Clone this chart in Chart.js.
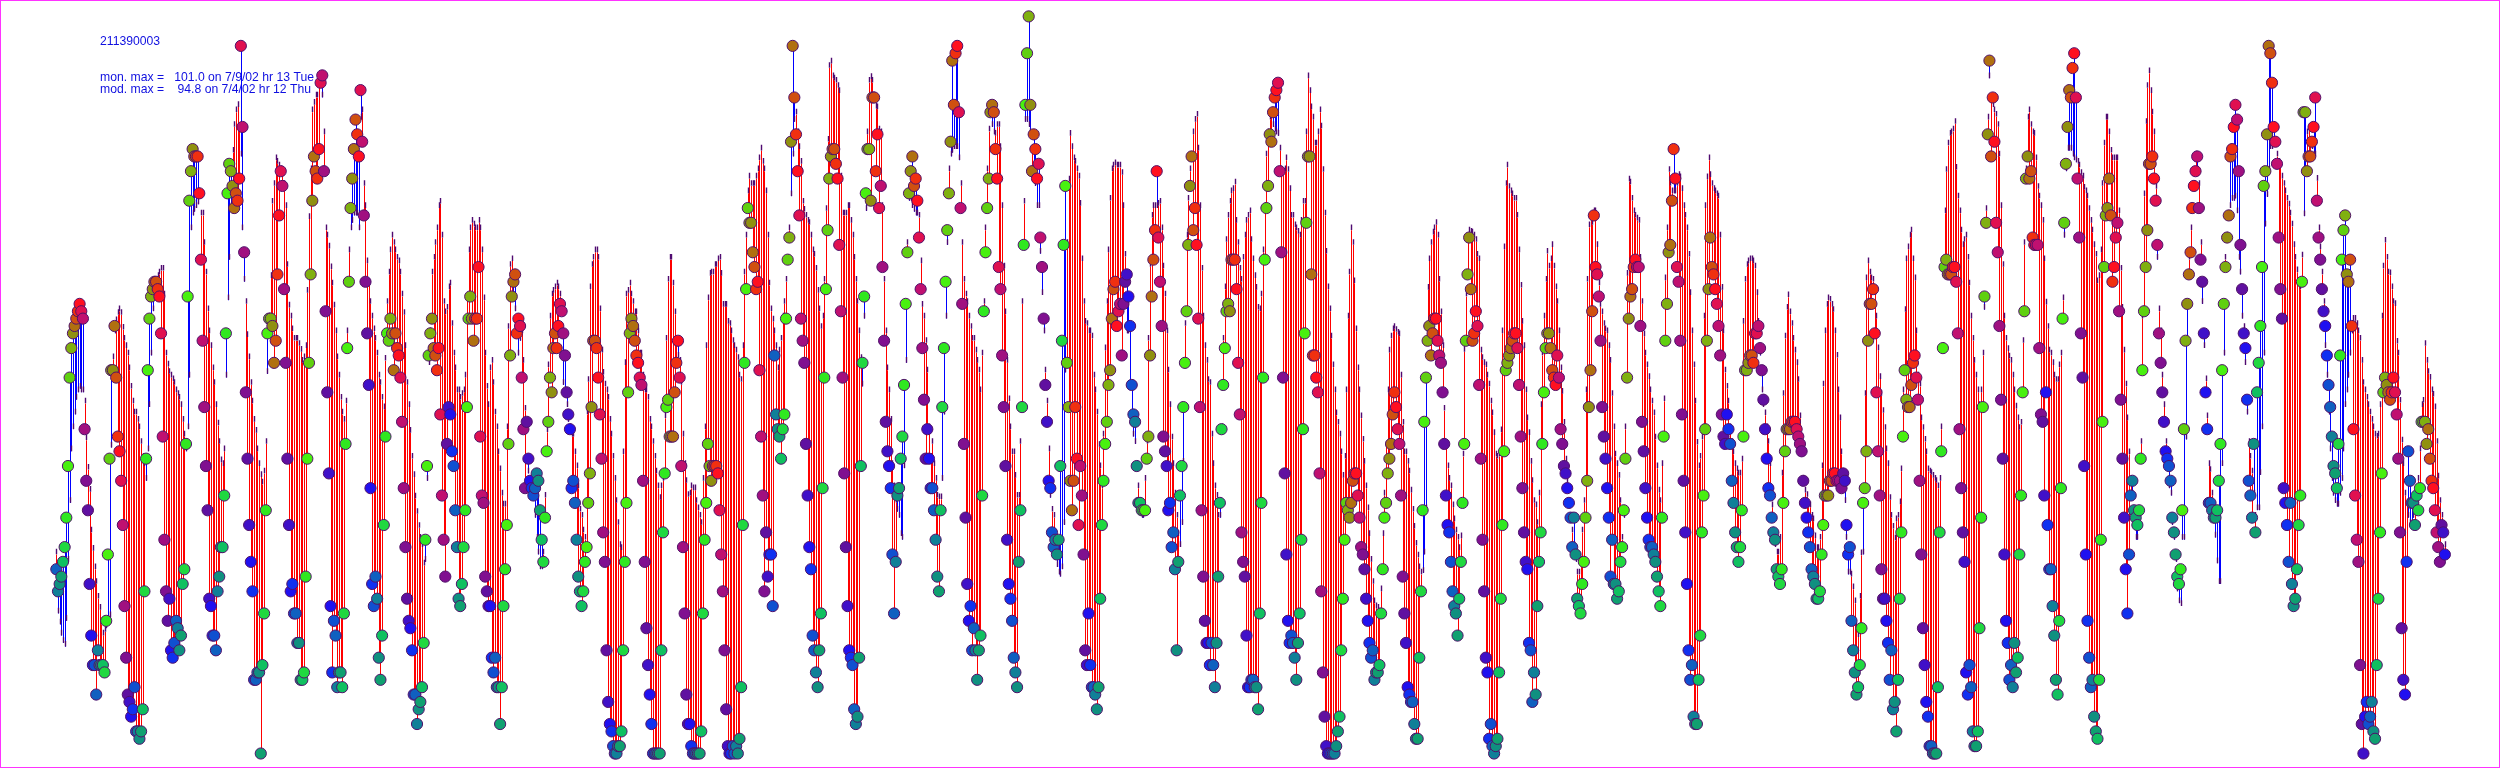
<!DOCTYPE html>
<html><head><meta charset="utf-8">
<style>html,body{margin:0;padding:0;background:#fff}canvas{display:block}</style>
<script src="https://cdn.jsdelivr.net/npm/chart.js@4"></script>
</head><body><canvas id="c" width="2500" height="768"></canvas>
<script>
const siteId = "211390003";
const monMaxLine = "mon. max =   101.0 on 7/9/02 hr 13 Tue";
const modMaxLine = "mod. max =    94.8 on 7/4/02 hr 12 Thu";
const hourColors = ["#1060c0","#108098","#109080","#10a070","#10c060","#20d840","#30e820","#48f010","#60d010","#80b010","#909010","#b07010","#d05010","#f03010","#ff1020","#e01050","#c01070","#a01080","#801090","#6010a0","#4010c8","#2010f0","#1030f0","#1050d0"];
// observed hourly values, one line per day
const observed = [
26,23,24,25,27,29,33,40,52,56,58,59,60,61,62,61,60,45,38,34,24,17,13,13,
9,15,13,13,13,12,19,28,41,53,53,59,52,44,42,38,32,21,14,9,8,6,7,10,
4,4,3,4,7,23,41,53,60,63,64,65,65,64,63,58,44,30,23,19,22,15,14,16,
19,18,15,17,24,26,43,63,76,80,83,82,82,82,77,68,57,48,40,34,22,21,17,17,
15,23,25,29,29,36,58,77,81,80,78,75,77,76,79,97,86,69,50,41,32,27,23,11,
11,12,12,1,13,20,34,58,60,60,59,54,57,66,74,80,78,64,54,41,32,23,24,20,
20,16,16,11,11,12,25,41,54,66,76,82,80,79,83,92,93,80,61,50,39,21,12,19,
17,10,12,12,10,20,43,56,65,75,79,83,87,85,82,91,84,74,65,58,51,37,24,21,
25,22,14,11,17,32,44,58,57,60,58,53,58,56,55,52,46,37,29,22,19,18,15,9,
9,5,7,8,10,16,30,40,55,58,60,56,55,53,56,47,36,30,25,43,48,47,42,40,
34,29,22,21,24,29,34,48,60,63,60,57,60,60,67,44,36,35,25,23,21,21,14,12,
14,10,10,5,10,21,26,32,43,55,63,65,66,58,60,59,52,45,37,46,41,38,37,36,
37,39,38,34,30,27,33,42,46,52,50,56,58,56,59,62,61,58,55,50,47,45,37,38,
35,30,25,23,21,23,27,29,35,39,48,57,57,56,52,47,41,31,27,15,8,5,4,2,
1,1,2,2,4,15,27,35,50,58,60,59,57,55,54,52,51,38,27,18,13,9,5,1,
1,1,1,1,15,31,39,48,49,44,44,44,50,54,57,52,40,29,20,9,5,5,2,1,
1,1,1,1,4,20,30,35,43,40,38,40,40,40,39,34,28,23,15,7,2,1,1,2,
1,2,1,3,10,32,54,64,75,73,73,69,67,64,65,53,44,36,23,31,25,28,28,21,
55,47,45,44,41,45,47,60,68,71,84,97,90,85,80,74,60,57,54,43,36,29,26,17,
15,12,10,15,20,37,52,64,72,79,82,83,83,81,79,70,61,52,39,29,21,15,14,13,
7,5,6,14,40,54,63,77,83,83,76,90,90,80,85,75,78,67,57,46,42,40,37,28,
20,27,36,37,41,44,51,62,69,77,80,82,78,79,76,71,64,56,49,41,45,41,37,37,
34,30,25,23,34,48,56,65,72,77,84,95,89,96,97,88,75,62,43,33,24,19,21,15,
18,15,11,15,17,36,61,69,75,79,88,89,88,83,79,67,64,55,48,40,30,24,22,19,
14,12,10,27,34,48,70,89,96,101,89,80,85,83,79,81,71,67,60,51,46,38,37,31,
29,30,28,30,40,57,70,78,54,48,38,34,38,48,41,32,40,36,28,15,13,20,13,10,
10,9,7,10,22,32,38,43,46,51,53,60,64,65,59,61,62,55,62,65,66,63,59,51,
47,46,40,35,35,34,34,34,41,44,55,63,68,72,80,71,65,59,44,42,40,34,35,29,
31,26,15,27,36,40,48,54,61,70,78,82,72,75,70,60,48,34,25,19,16,16,13,16,
13,10,16,25,35,45,51,56,61,62,61,68,68,68,64,54,47,31,27,25,17,10,10,11,
11,10,10,7,20,35,52,68,75,78,85,84,88,90,91,92,80,69,52,39,28,19,16,17,
16,14,11,16,20,30,45,58,73,82,82,66,55,55,52,50,39,23,12,6,2,1,1,1,
1,1,2,4,6,15,22,30,35,34,33,35,38,39,39,36,33,29,28,26,22,19,16,14,
15,11,12,12,13,20,26,33,35,39,41,43,47,50,48,45,43,36,25,20,16,10,9,8,
8,5,3,3,14,23,34,46,52,57,59,55,58,60,60,57,55,54,50,43,36,32,31,27,
23,21,20,17,22,27,35,43,57,66,71,64,57,58,61,59,51,41,30,23,14,12,3,5,
2,1,2,3,12,22,32,42,53,54,55,56,57,58,58,56,51,44,37,31,27,26,16,15,
8,12,9,21,27,31,43,50,56,58,58,56,53,52,51,55,52,45,43,40,39,37,35,33,
29,33,28,22,21,20,24,27,33,38,48,53,61,74,67,66,63,57,48,44,41,37,33,25,
30,24,24,22,23,27,29,34,41,52,60,63,64,67,68,67,67,59,46,42,37,33,30,29,
29,28,27,25,23,21,33,44,57,62,69,70,76,83,79,67,65,57,47,38,31,24,15,11,
13,6,5,5,11,17,31,36,45,57,64,71,67,66,64,62,59,55,47,44,43,47,45,43,
38,35,31,29,27,29,34,44,53,53,54,55,55,54,58,58,59,56,53,49,45,41,37,36,
33,31,30,26,25,24,26,35,42,45,45,45,46,46,46,45,44,43,42,38,35,33,31,29,
26,25,24,22,22,23,28,32,36,36,36,38,38,39,39,38,38,38,37,39,38,32,28,29,
19,15,12,9,10,13,18,35,37,42,57,62,62,64,58,50,42,36,26,22,22,19,16,11,
15,7,8,4,11,22,31,44,53,49,48,48,51,54,55,52,49,38,28,18,13,8,6,2,
2,1,1,1,10,31,42,56,67,68,66,66,66,67,67,65,58,45,37,31,27,12,9,13,
10,4,2,2,4,18,33,48,63,73,85,95,82,90,84,73,69,59,49,41,28,19,16,11,
13,10,16,12,14,28,36,50,61,79,82,79,80,71,70,70,70,56,47,46,36,50,32,26,
26,21,17,11,9,19,37,60,73,81,86,91,90,94,96,90,79,71,58,52,40,28,19,14,
10,11,6,4,3,11,30,46,67,74,75,79,74,65,67,71,73,61,49,41,33,26,20,28,
36,38,34,33,32,34,41,53,61,67,72,81,81,82,79,76,70,58,54,50,46,42,41,40,
38,33,31,28,25,24,26,34,45,57,62,66,69,75,78,80,82,75,68,65,58,50,45,35,
35,34,33,33,34,38,43,53,62,67,71,74,82,83,86,89,87,80,70,64,58,56,49,38,
36,33,43,31,50,54,59,67,78,80,85,97,96,92,86,84,81,71,64,60,37,35,32,27,
35,24,21,22,26,32,36,65,88,88,80,82,82,84,86,90,76,71,68,64,61,59,55,51,
48,44,40,39,37,43,55,68,72,74,66,65,68,59,45,36,30,27,13,5,1,6,8,5,
6,8,4,3,13,22,31,39,50,52,51,50,49,50,52,50,47,41,31,18,11,9,27,42,
38,35,35,32,36,34,37,46,46,46,43,45,41,38,37,34,31,29,27,32,31,28];
// modelled hourly values, one line per day
const modeled = [
28,20,18.5,17,16,15.5,19,27,35,42,45,47,49,50,50.5,50,50,48.5,43.5,39.5,36.5,31,28.5,26,
24,22,20.5,18.5,17,17.5,18,19,19.5,42.5,54.5,58,59.5,60.5,61,60.5,58.5,57,56,55,53,50.5,48.5,47,
47,46,45,43,41,40,38,42,48,55,61,63,64.5,65.5,66,66.5,66.5,63,55,53.5,52.5,52,51.5,51,
50,49.5,49,48,46,44,42,45,52,72,74,74.5,75,75.5,77,74,74,70,66,61,58,56,53,51,
48,45.5,43,40.5,40,42,52,62.5,68,75,82.5,86,88,88.7,85.5,82,72,65,62,57.5,54.5,51,48.5,46,
44.5,42,40,38.5,37.5,39,43,52.5,60,65.5,75.6,78,81.5,81,80.5,80,79.5,78,75,67,61.5,60,58.3,57,
57,57,56.3,55.5,54,54.5,56,63.5,73.5,80,88,89,90,90,92,92.7,90,85,72,71,69.5,66.7,64.5,61.5,
58,54.5,52,49,47,46,48.5,58,69,72,73,74,74,74,72,87,88,78,75,67.5,64.5,62,60,58.3,
57,55,52,51,49,47.7,54.3,62,66,69,71,70,69,68,67.5,66,63,60.5,56,51,48,44.5,41,38.5,
35.6,33.5,31.6,30,29,26.5,27,38,53.7,58,66,68,70,72,75,75.6,71,62,60.6,61.2,64,64.5,59,55,
53,50,50,49,49.5,50,52,62.5,69,72,73,72.5,72,72,73,72,69,62.5,55,50.5,48,53,54,51,
47,45,41.6,39.3,36,34.5,34.5,45,58.6,67,67.8,62.5,61,58,55,57,58,54,47.5,45.5,39,38,37,36,
33,30,28,26,26,28,35.7,44.6,53.4,60,63,63.5,64,64.5,64,63,61.5,51,50,48,46,45,44,44,
41.6,39.7,37,33.8,33,31,30,47,51.4,64,67,68,69,69,68,61,55.4,52.4,50.8,50,49,46,44,41,
38,35,32,29,28.6,41.6,53.7,63,63.5,64.5,63,62,60.6,60.6,58,55,55,52,50,50,49,46,45,43,
41,39,37,35.4,37,38,46.5,57,65,68,68,64.5,60.6,56.6,54.7,54,51,44,40,37.7,35.8,36,37,36.7,
36.7,35,34,33,32,38,45,56,62.5,65.8,66,66,67,67,67.8,68,65.8,61.6,61.6,61.6,59.3,59,58,56.7,
56,55.4,54.4,52,51.4,56,66,71,77,79,78,78,78,79,80,81.5,82.8,81,80,77,71,64.5,61,59.6,
58,56,53,55.4,57,60,62,65,68,72,76.6,82,86.7,87.7,85,83,81,75.6,74.5,73.7,73,72.7,71,69,
68.4,66.5,63.5,61,58.6,60,65,74.6,84,94,94.6,92.6,92.3,92,91.3,90.6,79,74,74,74,75,75,73,71,
68,65,62,58,54.4,50.8,60,74.6,85,92,92.5,92,90,88.5,88.4,85.4,85,75,65,58,53,50,46,40,
37,35,33.8,33,30.5,30,39.7,54,70,76,76,75,74.5,74,74,73.7,67.5,61.6,60,56.7,52.7,45,41,43,
40,38,35.7,35.5,35.5,38,47,60,70,80,82,82.5,83,83,83,81.5,78,70,65,63,62,60,58.6,57,
57,55.4,54,52.7,50,55,62,72,80,85.4,88,86,85,84.8,86,86,83,75,66.8,60.6,54,48.8,45,41.6,
41.6,38.4,35.7,35.7,43,62,75.6,86.7,86.7,86,85,82.8,80,78,75,75,68.8,63.2,58,52.7,48.5,42,35.7,33.8,
33,30,26.3,25.3,25,26,32,52.7,70,78.6,84.8,83,81.5,81,80,79,75.3,67.8,62,59.3,59,58,58,57.3,
52,50,47,42.6,39.7,37,44,55.7,62,69,76,80,80.5,80.8,80.5,80.5,80.5,79.5,75,68.4,58,58,50.8,46.9,
44,43,40,37,35,33,33,38,43,57,67,73.7,75,75,75,75.3,75.6,72,66.8,63,58,52.7,48,43.6,
40,36,33,30.5,29,32,40.3,59,71,76,80,81.5,85,86.7,87.4,82.8,75,66.5,60,56,54,51.4,51,44,
40,37,35.7,33,33,45,57,64,70.4,73.7,75.6,77,77.3,78.2,73,70,66.5,65,68,71,73,73.7,74.3,70.4,
67.8,65.5,63.9,61.2,61,63,69,75,82,85,87,87.4,86,85.4,85,84.8,82.8,80,79.5,80,81.5,79.9,77.3,73.7,
73.7,72.4,72,71.5,71,73,75.6,75.6,85,92.6,90.6,88.4,87,83.5,83.5,85,88,85.8,79.9,74,68.8,64,61,57.3,
53.4,50,46.9,45.6,44,41.6,38.4,41,50,60,66,72,70,64.8,58.3,53,50,46.5,43.3,40.3,37,34,30.5,27,
24,21.4,20.7,20.5,20,23,30.5,36,42.6,50,55.4,57.3,58.3,58.6,58.2,57.8,57.6,52,45.6,41.6,41.6,40.3,39,36.4,
33.8,31.5,29.2,27.6,26,25.3,25.5,28,34,63.9,67.8,70,71.4,72,72.7,71,65,60.6,56,47.5,42.3,39.7,38,37,
34.4,32.5,31,30,28.6,30.2,41.3,55.5,63,70.4,71.7,71.5,71.4,71,70.4,68.4,67.8,55.4,54.4,53.7,53.4,52,50.8,48.5,
46.9,44.2,41.3,41,41.3,44.6,58,69.4,78,80.5,77.6,77,76.6,76,76,73.7,69,64.2,59.3,56,50,46.2,44.2,40.3,
37.7,35,34.4,32,36,48,55,60,65,68.8,66.8,67.8,69.7,66.8,64,62,58,53,49.8,45.6,40.6,37.7,35,33,
31,29,27,25.3,25.3,27,31,35,50,65,72.4,73.3,72.7,74.3,74.3,69.7,64.5,61.6,60.6,59,58.3,58,56,54,
49.5,45,41.3,40,38.4,35,30,33,45,65.8,78.6,78.2,76,74.3,73.7,73.3,73,68,62,57.6,55,53.4,51.8,50,
48.5,46.9,43.6,39.7,36.4,35,40,48.8,65.2,72,79.9,78,77,77,77,78,79.2,78.9,77.3,75,73.7,72,68.4,63.2,
58,53.4,48.5,42.9,39.7,41,43.6,60,75,78.9,81.5,79.2,78,77.3,77,76.6,76.3,71,63.9,58,52.7,50.5,48.5,45,
43,41.6,40,39.3,38.7,38.7,40.6,59.3,65,67,67.5,67.8,67.8,67.5,66.8,63.2,59.3,55,50,48,46.9,45,43,40,
34.4,31,29,28,28,30,38.7,49.5,57.3,61.2,62.9,60.6,59,57,55.4,53.7,51.4,46.5,42,38,36.4,35.8,34.4,34.4,
33,32.5,30.2,28.6,28.6,30,39.7,50.8,58,61.6,62.5,62.3,61.6,60.9,58,54.7,50,46.2,41.6,38,35,30,25.3,25.3,
25,23.3,21.4,18,16.8,22,27.9,28,49.5,65.2,67.5,66,65.2,65,63.2,60,55.7,51.8,49.5,47.2,44.9,42,40,35.4,
33,31.5,29.9,32.5,33,34.8,39.3,50,60.9,67.8,69.4,71,71.7,67.8,65.2,58,52,50.8,46.2,44.9,43.3,41.6,39.3,39,
38.8,38.4,38,37.7,37,38,45,56,74.3,79.9,83.5,84.8,85,85.4,86.4,80.2,76.3,74.3,71.7,69.7,70.4,71,68,64.5,
60,57,54,52,50,48,50,55,61.2,74.6,87,92.6,89.3,88.7,88,87.4,86,82,75,67,60,57,55.6,54.6,
54,52,50,47.8,46.2,44.9,45.6,56.7,70,80,87,88,86,85,84.8,81.5,77.6,76.3,75,73,67.8,61.9,58.6,55.4,
55,53.7,52,51.4,51.4,53.4,55,62.5,71,80,82.8,82.8,82.8,82,81.5,81.2,81,80.5,79.5,79,77.5,77,76.3,74.6,
73,71.7,69.7,68.4,64.8,65.5,69,78,83.5,87,87,85,82.5,81.5,81.5,81.5,81.5,74.3,66.5,61.2,55.4,50.8,46.2,41.6,
38,36,33,30,30,32,43,60,76.6,86.4,91.3,93.3,90.6,87.7,85,77.6,68,61,58,52,48,43,40,37,
36,32,30,27,23,21.4,21,30,30,43.6,57,68,72,75,78,82,80,78,70,62,56,51.5,46.5,40,
39.2,36,33,30.3,26.8,24,24,40,55,68,71,73.5,75,76,76,76.3,74.3,68,66,60,58.6,53.7,47,43,
41,39,36,33,34,34,38.8,45,55,72.5,76.5,80,83,83,83.3,83.5,82,81,80.5,79,78,77,76,75.2,
74,72.5,69.7,68,66.3,64.3,64,68.3,73.9,80,85,85.5,83.7,83,82,82,78.7,72,69.4,66,62,56,52,47,
42,38,36,35,34.5,34.5,36,38,42,48,50,52,55,58,59.7,59.7,59,58,57,54,51,50,49,48,
47,46,45,44,43.7,44,48,60,66.8,70.3,68,66,65.9,64,62,61.7,56.6,55,48.6,43.2,40,36,34.8,33,
32,32,33,34,36,38,42,48,48.6,56.3,54,52.5,51.7,50,49.4,47.7,43,38.3,35,33,31,29];

const hours = observed.map((_, i) => i);
const spans = hours.map(h => ({x: h, y: [Math.min(observed[h], modeled[h]), Math.max(observed[h], modeled[h])]}));
const spanColors = hours.map(h => modeled[h] >= observed[h] ? "#ff0000" : "#0000ff");
const obsPts = hours.map(h => ({x: h, y: observed[h]}));
const modPts = hours.map(h => ({x: h, y: modeled[h] + 0.4}));
const obsColors = hours.map(h => hourColors[h % 24]);

// the reference is a raster plot: snap the thin marks onto whole pixel columns
const pixelSnap = {
  id: "pixelSnap",
  afterDatasetsUpdate(chart) {
    [0, 1].forEach(i => chart.getDatasetMeta(i).data.forEach(el => { el.x = Math.round(el.x) + 0.5; }));
  }
};

const notes = {
  id: "notes",
  beforeDatasetsDraw(chart) {
    const g = chart.ctx;
    g.save();
    g.fillStyle = "#1010e0";
    g.font = '12.2px "Liberation Sans", Arial, sans-serif';
    g.textBaseline = "alphabetic";
    g.fillText(siteId, 100, 45);
    g.fillText(monMaxLine, 100, 81);
    g.fillText(modMaxLine, 100, 93);
    g.restore();
  },
  afterDraw(chart) {
    const g = chart.ctx;
    g.save();
    g.strokeStyle = "#ff33ff";
    g.lineWidth = 1;
    g.strokeRect(0.5, 0.5, 2499, 767);
    g.restore();
  }
};

new Chart(document.getElementById("c"), {
  type: "bar",
  data: {
    datasets: [
      {type: "bar", label: "difference", data: spans, backgroundColor: spanColors, barThickness: 1, inflateAmount: 0, order: 3, grouped: false},
      {type: "scatter", label: "model", data: modPts, pointStyle: "line", rotation: 90, radius: 2.8, borderWidth: 1.4,
       borderColor: "#500a70", backgroundColor: "#500a70", order: 2},
      {type: "scatter", label: "monitor", data: obsPts, pointRadius: 5.6, pointBorderWidth: 1, pointBorderColor: "#50106a",
       pointBackgroundColor: obsColors, order: 1}
    ]
  },
  options: {
    responsive: false, animation: false, devicePixelRatio: 1,
    layout: {padding: 0},
    plugins: {legend: {display: false}, tooltip: {enabled: false}, title: {display: false}},
    scales: {
      x: {type: "linear", display: false, min: -29.92, max: 1466.2, offset: false},
      y: {type: "linear", display: false, min: -0.07, max: 102.33}
    }
  },
  plugins: [pixelSnap, notes]
});
</script></body></html>
